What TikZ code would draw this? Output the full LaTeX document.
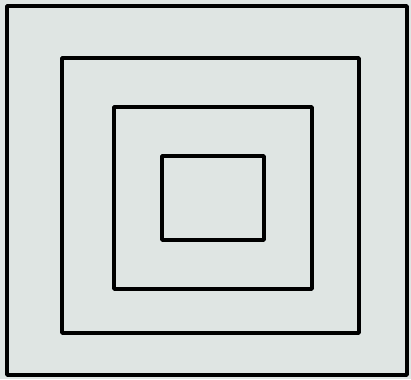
\documentclass[tikz,border=0pt]{standalone}
\usepackage{tikz}
\definecolor{paperColor}{RGB}{223,229,227}
\definecolor{primaryColor}{RGB}{0,0,0}
\tikzstyle{frame} = [line width=3.4pt, draw=primaryColor, line join=round]

\begin{document}
\begin{tikzpicture}[x=1pt, y=-1pt]
            % Paper background
            \fill[paperColor] (0, 0) rectangle (411, 379);
            \useasboundingbox (0, 0) rectangle (411, 379);
            
            % Nested squares, outer to inner
            \foreach \xa/\ya/\xb/\yb in {7/6/407/375, 62/58/359/333, 114/107/312/289, 162/156/264/240}
                \draw[frame] (\xa, \ya) rectangle (\xb, \yb);
                
        \end{tikzpicture}
\end{document}
